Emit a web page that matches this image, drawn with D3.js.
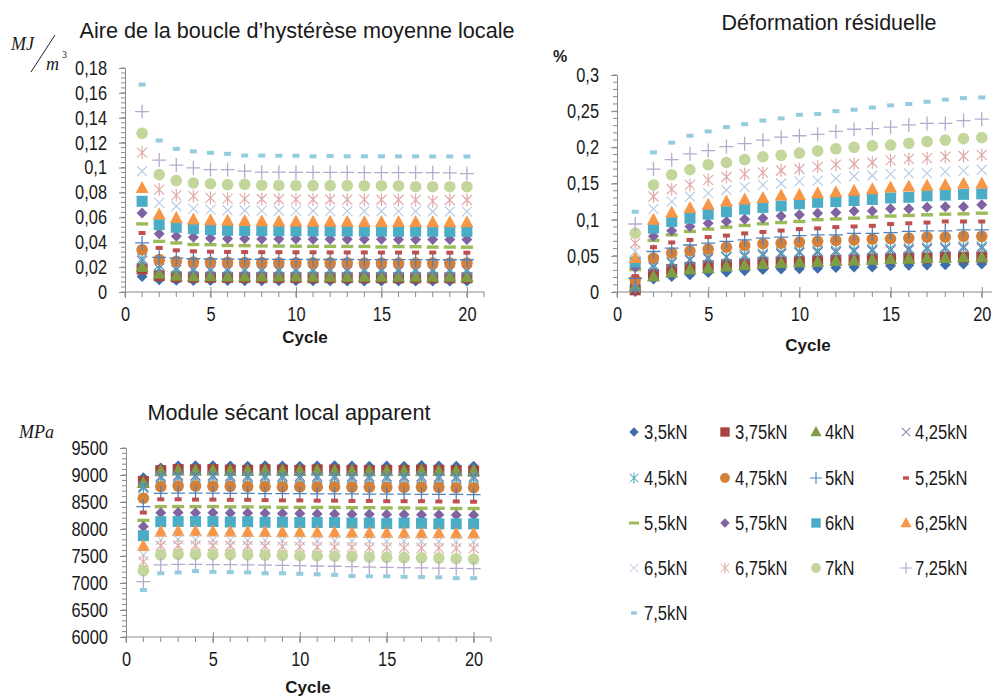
<!DOCTYPE html>
<html><head><meta charset="utf-8">
<script src="https://cdn.jsdelivr.net/npm/d3@7"></script>
<style>
body{margin:0;background:#fff;}
text{font-family:"Liberation Sans Narrow","Arial Narrow","Liberation Sans",sans-serif;fill:#1a1a1a;}
</style></head><body>
<svg id="c" width="992" height="698"></svg>
<script>
const cycles = [1,2,3,4,5,6,7,8,9,10,11,12,13,14,15,16,17,18,19,20];
const seriesNames = ["3,5kN","3,75kN","4kN","4,25kN","4,5kN","4,75kN","5kN","5,25kN","5,5kN","5,75kN","6kN","6,25kN","6,5kN","6,75kN","7kN","7,25kN","7,5kN"];
const seriesColors = ["#3E6DAB","#A8423E","#7E9D45","#7D6AA0","#4BA3BD","#D2803A","#4F81BD","#C0504D","#9BBB59","#8064A2","#4BACC6","#F79646","#B9CDE5","#E0ABAA","#C3D69B","#B9A9CE","#93CDDD"];
const seriesShapes = ["diamond","square","triangle","x","star","circle","plus","shortdash","longdash","diamond","square","triangle","x","star","circle","plus","shortdash"];

// Aire de la boucle d'hystérèse moyenne locale (MJ/m3)
const aire = [
 [0.0125,0.0099,0.0094,0.0093,0.0092,0.0092,0.0091,0.0091,0.0090,0.0090,0.0090,0.0090,0.0089,0.0089,0.0089,0.0089,0.0089,0.0088,0.0088,0.0088],
 [0.0185,0.0131,0.0121,0.0119,0.0118,0.0117,0.0117,0.0116,0.0116,0.0116,0.0115,0.0115,0.0115,0.0115,0.0115,0.0114,0.0114,0.0114,0.0114,0.0114],
 [0.0201,0.0147,0.0130,0.0127,0.0126,0.0125,0.0125,0.0124,0.0124,0.0124,0.0123,0.0123,0.0123,0.0123,0.0122,0.0122,0.0122,0.0122,0.0122,0.0121],
 [0.0250,0.0190,0.0178,0.0175,0.0173,0.0172,0.0172,0.0171,0.0171,0.0170,0.0170,0.0170,0.0169,0.0169,0.0169,0.0169,0.0168,0.0168,0.0168,0.0168],
 [0.0268,0.0215,0.0195,0.0190,0.0188,0.0187,0.0186,0.0186,0.0185,0.0185,0.0185,0.0184,0.0184,0.0184,0.0183,0.0183,0.0183,0.0183,0.0182,0.0182],
 [0.0340,0.0260,0.0247,0.0241,0.0239,0.0238,0.0237,0.0236,0.0235,0.0235,0.0234,0.0234,0.0234,0.0233,0.0233,0.0233,0.0233,0.0232,0.0232,0.0232],
 [0.0394,0.0279,0.0273,0.0267,0.0265,0.0264,0.0263,0.0263,0.0262,0.0262,0.0261,0.0261,0.0261,0.0260,0.0260,0.0260,0.0260,0.0259,0.0259,0.0259],
 [0.0474,0.0354,0.0335,0.0327,0.0324,0.0322,0.0321,0.0320,0.0320,0.0319,0.0319,0.0318,0.0318,0.0318,0.0317,0.0317,0.0317,0.0317,0.0316,0.0316],
 [0.0547,0.0407,0.0394,0.0382,0.0380,0.0374,0.0372,0.0370,0.0369,0.0368,0.0367,0.0367,0.0366,0.0366,0.0362,0.0365,0.0364,0.0361,0.0361,0.0360],
 [0.0635,0.0469,0.0448,0.0440,0.0431,0.0428,0.0427,0.0426,0.0425,0.0425,0.0424,0.0424,0.0423,0.0423,0.0423,0.0422,0.0422,0.0422,0.0421,0.0421],
 [0.0729,0.0541,0.0520,0.0509,0.0501,0.0496,0.0494,0.0493,0.0492,0.0491,0.0491,0.0490,0.0490,0.0489,0.0489,0.0488,0.0488,0.0488,0.0487,0.0487],
 [0.0836,0.0622,0.0595,0.0582,0.0576,0.0572,0.0570,0.0568,0.0567,0.0566,0.0565,0.0565,0.0564,0.0563,0.0563,0.0562,0.0562,0.0561,0.0561,0.0560],
 [0.0970,0.0716,0.0689,0.0670,0.0662,0.0657,0.0655,0.0654,0.0653,0.0652,0.0651,0.0650,0.0650,0.0649,0.0649,0.0648,0.0648,0.0647,0.0647,0.0646],
 [0.1120,0.0823,0.0777,0.0770,0.0756,0.0750,0.0748,0.0747,0.0745,0.0744,0.0743,0.0743,0.0742,0.0742,0.0741,0.0741,0.0740,0.0730,0.0739,0.0739],
 [0.1275,0.0943,0.0895,0.0876,0.0870,0.0863,0.0865,0.0858,0.0856,0.0856,0.0855,0.0855,0.0855,0.0854,0.0854,0.0853,0.0846,0.0846,0.0846,0.0846],
 [0.1450,0.1060,0.1020,0.0997,0.0984,0.0983,0.0972,0.0964,0.0963,0.0962,0.0962,0.0961,0.0961,0.0960,0.0960,0.0960,0.0959,0.0959,0.0958,0.0952],
 [0.1667,0.1217,0.1150,0.1130,0.1118,0.1110,0.1097,0.1096,0.1095,0.1095,0.1090,0.1093,0.1090,0.1090,0.1090,0.1090,0.1090,0.1089,0.1089,0.1089]
];

// Déformation résiduelle (%)
const deformation = [
 [0.001,0.018,0.0216,0.024,0.027,0.0276,0.0294,0.031,0.0317,0.032,0.0327,0.034,0.0345,0.0345,0.0363,0.037,0.0373,0.0377,0.0386,0.0386],
 [0.003,0.024,0.031,0.034,0.0363,0.0377,0.039,0.041,0.0414,0.042,0.043,0.0437,0.0446,0.0455,0.046,0.047,0.047,0.048,0.048,0.0483],
 [0.008,0.0216,0.027,0.031,0.033,0.0354,0.037,0.0386,0.040,0.041,0.0414,0.043,0.0437,0.0446,0.0455,0.046,0.047,0.047,0.048,0.048],
 [0.0055,0.0345,0.040,0.0437,0.046,0.048,0.049,0.0506,0.0525,0.054,0.0547,0.055,0.056,0.057,0.0575,0.058,0.0593,0.060,0.0607,0.0607],
 [0.007,0.0377,0.042,0.0455,0.048,0.049,0.0515,0.053,0.0547,0.056,0.057,0.0575,0.058,0.0593,0.060,0.0607,0.0616,0.062,0.063,0.063],
 [0.017,0.047,0.054,0.057,0.0593,0.062,0.0644,0.0667,0.0676,0.069,0.070,0.0713,0.072,0.073,0.0736,0.0745,0.076,0.076,0.077,0.077],
 [0.019,0.056,0.0607,0.065,0.0676,0.070,0.072,0.0745,0.076,0.078,0.079,0.079,0.081,0.081,0.082,0.0837,0.0846,0.0846,0.086,0.086],
 [0.022,0.062,0.0685,0.072,0.076,0.078,0.081,0.083,0.085,0.087,0.088,0.0897,0.0906,0.0915,0.094,0.095,0.096,0.0975,0.0975,0.0975],
 [0.031,0.0713,0.079,0.0837,0.087,0.0897,0.092,0.0943,0.096,0.0975,0.100,0.101,0.102,0.1035,0.105,0.1058,0.1067,0.1076,0.108,0.109],
 [0.034,0.077,0.0846,0.0906,0.095,0.0975,0.1007,0.102,0.105,0.1067,0.109,0.110,0.112,0.112,0.115,0.115,0.117,0.118,0.118,0.1205],
 [0.0414,0.0883,0.0975,0.102,0.1076,0.111,0.1145,0.117,0.119,0.122,0.124,0.125,0.1265,0.128,0.130,0.131,0.133,0.134,0.135,0.1357],
 [0.047,0.100,0.110,0.116,0.1205,0.125,0.128,0.130,0.1334,0.134,0.1366,0.138,0.140,0.142,0.1444,0.146,0.147,0.148,0.1495,0.150],
 [0.056,0.115,0.125,0.132,0.1366,0.141,0.145,0.148,0.150,0.153,0.154,0.157,0.160,0.161,0.163,0.164,0.164,0.1665,0.1675,0.169],
 [0.0676,0.132,0.142,0.148,0.155,0.159,0.163,0.165,0.168,0.170,0.173,0.176,0.177,0.179,0.182,0.184,0.185,0.187,0.188,0.1895],
 [0.0814,0.148,0.162,0.169,0.176,0.179,0.183,0.187,0.189,0.192,0.195,0.198,0.200,0.202,0.203,0.2056,0.208,0.210,0.212,0.2134],
 [0.094,0.170,0.183,0.191,0.1955,0.201,0.205,0.210,0.214,0.216,0.218,0.222,0.225,0.226,0.228,0.231,0.233,0.233,0.237,0.239],
 [0.111,0.193,0.2065,0.216,0.222,0.228,0.232,0.237,0.240,0.245,0.246,0.250,0.252,0.255,0.258,0.260,0.263,0.266,0.268,0.269]
];

// Module sécant local apparent (MPa)
const module = [
 [8950,9130,9165,9170,9170,9165,9160,9170,9165,9160,9165,9170,9165,9160,9165,9160,9175,9165,9160,9160],
 [8880,9080,9100,9095,9100,9090,9085,9095,9090,9085,9095,9090,9085,9080,9085,9085,9090,9085,9080,9070],
 [8850,9075,9085,9085,9085,9080,9080,9085,9080,9080,9085,9080,9075,9075,9075,9075,9080,9075,9075,9080],
 [8790,8980,8990,8990,8990,8985,8985,8985,8980,8980,8980,8980,8975,8975,8975,8975,8975,8970,8970,8970],
 [8760,8945,8950,8950,8950,8945,8945,8945,8940,8940,8940,8940,8935,8935,8935,8935,8935,8930,8930,8930],
 [8570,8785,8795,8795,8790,8790,8785,8785,8780,8780,8780,8780,8775,8775,8770,8770,8775,8770,8765,8765],
 [8415,8660,8665,8665,8665,8660,8660,8655,8655,8655,8650,8650,8650,8645,8645,8645,8640,8640,8640,8635],
 [8305,8550,8550,8545,8545,8540,8540,8535,8530,8530,8525,8525,8520,8520,8515,8515,8515,8510,8510,8505],
 [8160,8415,8415,8415,8415,8410,8410,8405,8400,8400,8400,8400,8395,8395,8390,8390,8385,8385,8380,8380],
 [8045,8300,8305,8300,8300,8295,8295,8290,8285,8285,8280,8280,8275,8275,8270,8270,8265,8265,8260,8260],
 [7876,8135,8140,8140,8140,8130,8135,8125,8125,8120,8120,8120,8110,8110,8100,8110,8105,8095,8095,8095],
 [7685,7950,7960,7960,7955,7950,7945,7945,7940,7940,7935,7935,7930,7925,7925,7920,7920,7920,7915,7915],
 [7520,7800,7810,7805,7800,7800,7795,7795,7790,7790,7785,7785,7780,7780,7775,7775,7770,7770,7765,7765],
 [7395,7690,7695,7695,7690,7690,7685,7680,7675,7670,7665,7665,7660,7655,7655,7650,7645,7645,7640,7640],
 [7230,7520,7530,7530,7525,7525,7520,7515,7510,7505,7500,7495,7490,7480,7475,7470,7465,7460,7450,7440],
 [7025,7335,7345,7345,7340,7340,7335,7330,7325,7320,7315,7310,7305,7295,7290,7285,7280,7275,7270,7265],
 [6870,7180,7195,7220,7205,7200,7195,7180,7180,7170,7160,7150,7130,7125,7125,7115,7110,7105,7090,7090]
];

const xTicks = [0,5,10,15,20];
const aireTicks = [0,0.02,0.04,0.06,0.08,0.1,0.12,0.14,0.16,0.18];
const defTicks = [0,0.05,0.1,0.15,0.2,0.25,0.3];
const modTicks = [6000,6500,7000,7500,8000,8500,9000,9500];

const svg = d3.select("#c");
const AX = "#8a8a8a";
const SANS = "'Liberation Sans',Arial,sans-serif";
const fmt = v => String(+v.toFixed(4)).replace(".", ",");

// emulate a condensed face: shrink glyph widths of the text element horizontally
function narrow(sel, k) {
  sel.each(function() {
    const w = this.getComputedTextLength();
    d3.select(this).attr("textLength", (w * k).toFixed(1)).attr("lengthAdjust", "spacingAndGlyphs");
  });
}

function marker(g, shape, color, cx, cy, k) {
  k = k || 1;
  const t = `translate(${cx},${cy}) scale(${k})`;
  switch (shape) {
    case "diamond": g.append("path").attr("d","M0,-5.5L5.5,0L0,5.5L-5.5,0Z").attr("fill",color).attr("transform",t); break;
    case "square": g.append("rect").attr("x",-5.5).attr("y",-5.5).attr("width",11).attr("height",11).attr("fill",color).attr("transform",t); break;
    case "triangle": g.append("path").attr("d","M0,-7L6.5,5L-6.5,5Z").attr("fill",color).attr("transform",t); break;
    case "circle": g.append("circle").attr("r",5.8).attr("fill",color).attr("transform",t); break;
    case "x": g.append("path").attr("d","M-5,-5L5,5M-5,5L5,-5").attr("stroke",color).attr("stroke-width",1.2).attr("fill","none").attr("transform",t); break;
    case "star": g.append("path").attr("d","M-5,-5L5,5M-5,5L5,-5M0,-6.5L0,6.5").attr("stroke",color).attr("stroke-width",1.2).attr("fill","none").attr("transform",t); break;
    case "plus": g.append("path").attr("d","M-7,0L7,0M0,-7L0,7").attr("stroke",color).attr("stroke-width",1.3).attr("fill","none").attr("transform",t); break;
    case "shortdash": g.append("rect").attr("x",-3.5).attr("y",-2).attr("width",7).attr("height",4).attr("fill",color).attr("transform",t); break;
    case "longdash": g.append("rect").attr("x",-6).attr("y",-1.7).attr("width",12).attr("height",3.4).attr("fill",color).attr("transform",t); break;
  }
}

function panel(opt) {
  const x = d3.scaleLinear().domain([0,21]).range([opt.x0, opt.x1]);
  const y = d3.scaleLinear().domain(opt.yDomain).range([opt.y0, opt.y1]);
  const g = svg.append("g");
  const minorStep = (opt.yTicks[1]-opt.yTicks[0])/5;
  const nMinor = Math.round((opt.yDomain[1]-opt.yDomain[0])/minorStep);
  const minor = d3.range(nMinor+1).map(i => opt.yDomain[0] + i*minorStep);
  g.selectAll(null).data(minor).enter().append("line")
    .attr("x1", opt.x0-4).attr("x2", opt.x0).attr("y1", d=>y(d)).attr("y2", d=>y(d))
    .attr("stroke", AX).attr("stroke-width",1);
  const yAxis = d3.axisLeft(y).tickValues(opt.yTicks).tickSize(6).tickPadding(12).tickFormat(fmt);
  const ya = g.append("g").attr("transform",`translate(${opt.x0},0)`).call(yAxis);
  ya.select(".domain").attr("stroke",AX);
  ya.selectAll(".tick line").attr("stroke",AX);
  ya.selectAll("text").attr("font-size",20).attr("fill","#1a1a1a").attr("font-family",null);
  narrow(ya.selectAll("text"), 0.82);
  g.selectAll(null).data(d3.range(0,22)).enter().append("line")
    .attr("x1", d=>x(d)).attr("x2", d=>x(d)).attr("y1", opt.y0).attr("y2", opt.y0+5)
    .attr("stroke", AX);
  const xAxis = d3.axisBottom(x).tickValues(xTicks).tickSize(6).tickPadding(9).tickFormat(d3.format("d"));
  const xa = g.append("g").attr("transform",`translate(0,${opt.y0})`).call(xAxis);
  xa.select(".domain").attr("stroke",AX).attr("d",`M${opt.x0},0H${opt.x1}`);
  xa.selectAll(".tick line").attr("stroke",AX).attr("y1",-5);
  xa.selectAll("text").attr("font-size",20).attr("fill","#1a1a1a").attr("font-family",null);
  narrow(xa.selectAll("text"), 0.82);
  g.append("text").attr("x", opt.cycleX).attr("y", opt.cycleY).attr("text-anchor","middle")
    .attr("font-size",17).attr("font-weight","bold").style("font-family",SANS).text("Cycle");
  const tt = g.append("text").attr("x", opt.titleX).attr("y", opt.titleY).attr("text-anchor","middle")
    .attr("font-size",21.5).style("font-family",SANS).text(opt.title);
  tt.attr("textLength", opt.titleW).attr("lengthAdjust","spacingAndGlyphs");
  const pg = g.append("g");
  opt.data.forEach((vals, si) => {
    vals.forEach((v, i) => marker(pg, seriesShapes[si], seriesColors[si], x(cycles[i]), y(v)));
  });
  return g;
}

panel({x0:125, x1:484, y0:292, y1:68, yDomain:[0,0.18], yTicks:aireTicks, data:aire,
  cycleX:305, cycleY:343, titleX:297, titleY:38, titleW:435, title:"Aire de la boucle d\u2019hystérèse moyenne locale"});
panel({x0:617, x1:1000, y0:292, y1:75, yDomain:[0,0.3], yTicks:defTicks, data:deformation,
  cycleX:808, cycleY:351, titleX:829, titleY:30, titleW:215, title:"Déformation résiduelle"});
panel({x0:126, x1:491, y0:637, y1:448, yDomain:[6000,9500], yTicks:modTicks, data:module,
  cycleX:308, cycleY:693, titleX:289, titleY:420, titleW:283, title:"Module sécant local apparent"});

const serif = "'Liberation Serif','DejaVu Serif',serif";
svg.append("text").attr("x",11).attr("y",50).attr("font-size",18).attr("font-style","italic").style("font-family",serif).text("MJ");
svg.append("line").attr("x1",31).attr("y1",72).attr("x2",55).attr("y2",35).attr("stroke","#222").attr("stroke-width",1);
svg.append("text").attr("x",46).attr("y",70).attr("font-size",18).attr("font-style","italic").style("font-family",serif).text("m");
svg.append("text").attr("x",62).attr("y",58).attr("font-size",10).style("font-family",serif).text("3");
svg.append("text").attr("x",553).attr("y",62).attr("font-size",16).attr("font-weight","bold").style("font-family",SANS).text("%");
svg.append("text").attr("x",19).attr("y",438).attr("font-size",18).attr("font-style","italic").style("font-family",serif).text("MPa");

const legCols = [634, 725, 816, 906];
const legTextX = [644, 735, 825, 915];
const legRows = [432, 478, 523, 568, 613];
const lg = svg.append("g");
seriesNames.forEach((n, i) => {
  const c = i % 4, r = Math.floor(i / 4);
  marker(lg, seriesShapes[i], seriesColors[i], legCols[c], legRows[r], 0.85);
  lg.append("text").attr("x", legTextX[c]).attr("y", legRows[r]+7).attr("font-size",20).text(n);
});
narrow(lg.selectAll("text"), 0.83);
</script>
</body></html>
